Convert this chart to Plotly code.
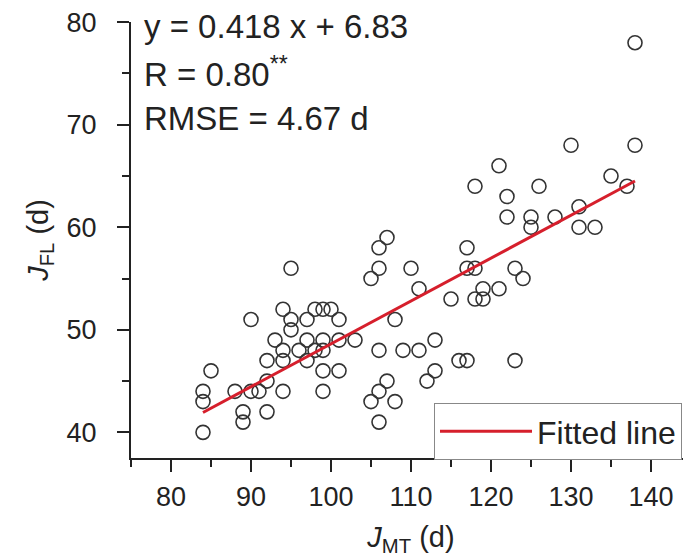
import plotly.graph_objects as go

# J_MT (d) and J_FL (d)
jmt = [94, 98, 90, 95, 97, 95, 93, 97, 94, 96, 92, 94, 97, 85, 92, 84, 88, 90, 91, 94,
       84, 89, 92, 89, 84,
       107, 106, 106, 105, 110, 111, 115, 117, 117, 118, 119, 118, 119, 99, 100, 101, 108,
       99, 101, 103, 98, 99, 106, 109, 111, 113, 116, 117, 99, 101, 113, 112, 107, 106,
       105, 108, 99, 106,
       138, 130, 138, 121, 118, 126, 122, 135, 137, 122, 125, 125, 128, 131, 131, 133,
       123, 124, 121, 123, 95]
jfl = [52, 52, 51, 51, 51, 50, 49, 49, 48, 48, 47, 47, 47, 46, 45, 44, 44, 44, 44, 44,
       43, 42, 42, 41, 40,
       59, 58, 56, 55, 56, 54, 53, 58, 56, 56, 54, 53, 53, 52, 52, 51, 51,
       49, 49, 49, 48, 48, 48, 48, 48, 49, 47, 47, 46, 46, 46, 45, 45, 44,
       43, 43, 44, 41,
       78, 68, 68, 66, 64, 64, 63, 65, 64, 61, 61, 60, 61, 62, 60, 60,
       56, 55, 54, 47, 56]
slope = 0.418
intercept = 6.83
eq_lines = ["y = 0.418 x + 6.83", "R = 0.80<sup>**</sup>", "RMSE = 4.67 d"]
x_ticks = [80, 90, 100, 110, 120, 130, 140]
y_ticks = [40, 50, 60, 70, 80]

fit_x = [min(jmt), max(jmt)]
fit_y = [slope * v + intercept for v in fit_x]

FONT = "Liberation Sans, Arial, sans-serif"
OFF = 8  # page body margin
W, H = 691 - OFF, 560 - OFF
# plot area in window pixels
PL, PT, PR, PB = 131, 22, 691, 458
L, T = PL - OFF, PT - OFF
R = W - (PR - OFF)
B = H - (PB - OFF)
PW, PH = PR - PL, PB - PT

fig = go.Figure()
fig.add_trace(go.Scatter(
    x=jmt, y=jfl, mode="markers", showlegend=False,
    marker=dict(symbol="circle-open", size=14, color="#333333", line=dict(width=1.6, color="#333333")),
))
fig.add_trace(go.Scatter(
    x=fit_x, y=fit_y, mode="lines", name="Fitted line",
    line=dict(color="#d61f2c", width=3),
))

axis_common = dict(
    showgrid=False, zeroline=False, showline=True, linecolor="#222222", linewidth=2,
    ticks="outside", ticklen=12, tickwidth=2, tickcolor="#222222",
    tickfont=dict(family=FONT, size=27, color="#222222"),
    automargin=False, ticklabeloverflow="allow",
)
fig.update_xaxes(
    range=[75, 145], tickvals=x_ticks, ticklabelstandoff=2,
    minor=dict(ticks="outside", ticklen=7, tickwidth=2, tickcolor="#222222", dtick=5, tick0=75),
    title=dict(text="<i>J</i><sub>MT</sub> (d)", font=dict(family=FONT, size=29, color="#222222"), standoff=15),
    **axis_common,
)
fig.update_yaxes(
    range=[37.5, 80.02], tickvals=y_ticks, ticklabelstandoff=15,
    minor=dict(ticks="outside", ticklen=7, tickwidth=2, tickcolor="#222222", dtick=5, tick0=40),
    title=dict(text="<i>J</i><sub>FL</sub> (d)", font=dict(family=FONT, size=29, color="#222222"), standoff=9),
    **axis_common,
)

ys = [27, 72, 118]
for txt, py in zip(eq_lines, ys):
    fig.add_annotation(
        text=txt, xref="paper", yref="paper",
        x=(142 - PL) / PW, y=(PB - py) / PH,
        xanchor="left", yanchor="middle", showarrow=False,
        font=dict(family=FONT, size=33, color="#222222"),
    )

fig.update_layout(
    width=W, height=H,
    margin=dict(l=L, r=R, t=T, b=B, autoexpand=False),
    paper_bgcolor="white", plot_bgcolor="white",
    showlegend=True,
    legend=dict(
        x=(434 - PL) / PW, y=(PB - 403) / PH,
        xanchor="left", yanchor="top",
        bordercolor="#888888", borderwidth=1, bgcolor="white",
        font=dict(family=FONT, size=32, color="#222222"),
        itemwidth=92,
    ),
)

fig.write_html("out.html")
